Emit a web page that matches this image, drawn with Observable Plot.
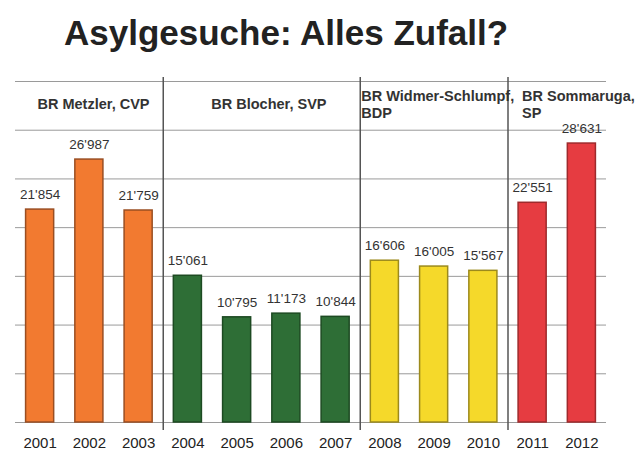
<!DOCTYPE html>
<html>
<head>
<meta charset="utf-8">
<script src="https://cdn.jsdelivr.net/npm/d3@7"></script>
<script src="https://cdn.jsdelivr.net/npm/@observablehq/plot@0.6"></script>
<style>
  html, body { margin: 0; padding: 0; background: #ffffff; }
  #wrap { width: 638px; height: 450px; overflow: hidden; }
  #title { height: 60px; box-sizing: border-box; padding-top: 13px; padding-left: 64px;
           line-height: 35px; text-align: left;
           font: bold 35px "Liberation Sans", Arial, sans-serif; color: #222; }
</style>
</head>
<body>
<div id="wrap">
  <div id="title">Asylgesuche: Alles Zufall?</div>
  <div id="chart"></div>
</div>
<script>
const years  = [2001, 2002, 2003, 2004, 2005, 2006, 2007, 2008, 2009, 2010, 2011, 2012];
const values = [21854, 26987, 21759, 15061, 10795, 11173, 10844, 16606, 16005, 15567, 22551, 28631];
const groupOf = [0, 0, 0, 1, 1, 1, 1, 2, 2, 2, 3, 3];
const groupLabels = ["BR Metzler, CVP", "BR Blocher, SVP", "BR Widmer-Schlumpf,\nBDP", "BR Sommaruga,\nSP"];
const groupFirst = [2001, 2004, 2008, 2011];
const groupFill   = ["#f27a30", "#2e6e36", "#f5d92a", "#e63c41"];
const groupStroke = ["#9a4e22", "#1d4a22", "#9c8a1c", "#9e2a2c"];

const data = years.map((y, i) => ({year: y, value: values[i], g: groupOf[i]}));
const fmt = v => d3.format(",")(v).replace(/,/g, "'");
const groups = groupLabels.map((t, i) => ({label: t, first: groupFirst[i]}));
const seps = groupFirst.slice(1).map(y => y - 0.5);
const half = 0.285;

const labelDx = [22, 48, 1, 14];

const chart = Plot.plot({
  width: 638,
  height: 390,
  marginLeft: 15,
  marginRight: 32,
  marginTop: 21,
  marginBottom: 28,
  style: {fontFamily: "'Liberation Sans', Arial, sans-serif", background: "transparent", color: "#222"},
  x: {domain: [2000.5, 2012.5], axis: null},
  y: {domain: [0, 35000], axis: null},
  marks: [
    Plot.gridY({ticks: d3.range(0, 35001, 5000), stroke: "#9a9a9a", strokeOpacity: 1, strokeWidth: 1}),
    Plot.rectY(data, {
      x1: d => d.year - half, x2: d => d.year + half, y1: 0, y2: "value",
      fill: d => groupFill[d.g], stroke: d => groupStroke[d.g], strokeWidth: 1.5
    }),
    Plot.ruleX(seps, {stroke: "#555", strokeWidth: 1.5, insetTop: -4, insetBottom: -8}),
    Plot.text(data, {
      x: "year", y: "value", text: d => fmt(d.value), dy: -15,
      fontSize: 13.5, fill: "#333", letterSpacing: "-0.2px"
    }),
    Plot.text(years, {
      x: d => d, y: 0, text: d => String(d), dy: 21,
      fontSize: 15, fill: "#222", letterSpacing: "0.6px"
    }),
    ...groups.map((g, i) => Plot.text([g], {
      x: d => d.first - 0.5, y: 32700, text: "label",
      dx: labelDx[i],
      textAnchor: "start", lineAnchor: "middle", lineHeight: 1.2,
      fontSize: 14.5, fontWeight: "bold", fill: "#333", letterSpacing: "-0.2px"
    }))
  ]
});
document.getElementById("chart").appendChild(chart);
</script>
</body>
</html>
